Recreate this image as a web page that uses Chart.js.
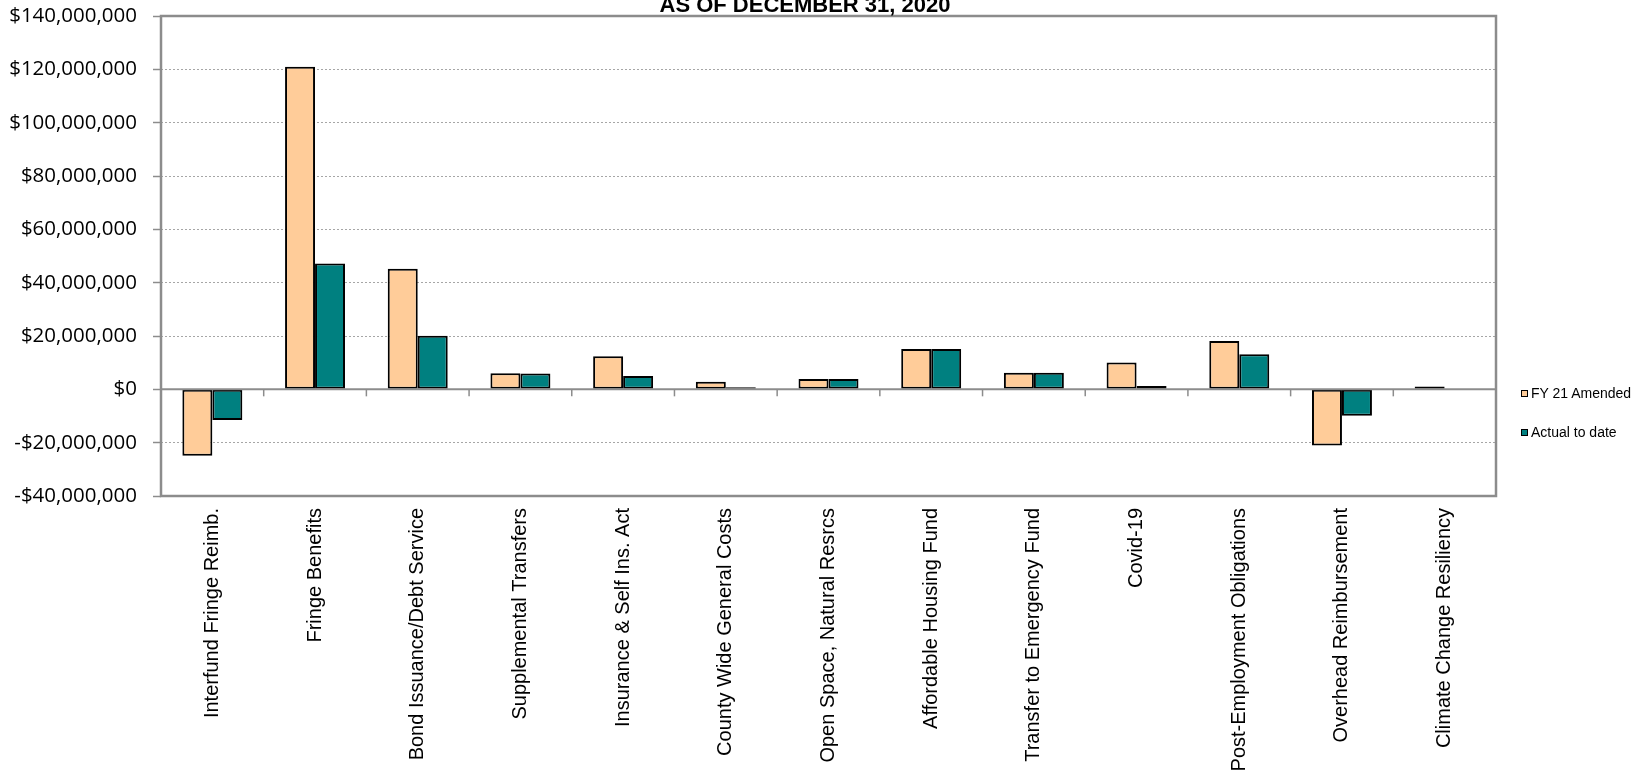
<!DOCTYPE html>
<html>
<head>
<meta charset="utf-8">
<script src="https://cdn.jsdelivr.net/npm/chart.js@4"></script>
<style>
  html, body { margin: 0; padding: 0; background: #fff; }
  #wrap { position: relative; width: 1632px; height: 777px; }
  #legend { position: absolute; left: 1521px; top: 385px; font: 14px "Liberation Sans", Arial, sans-serif; color: #000; }
  .item { position: absolute; left: 0; white-space: nowrap; line-height: 16px; }
  .item i { display: inline-block; width: 5px; height: 5px; border: 1px solid #000; margin-right: 3px; vertical-align: 1px; }
</style>
</head>
<body>
<div id="wrap">
  <canvas id="budgetChart"></canvas>
  <div id="legend"></div>
</div>
<script>
// Data
const categories = [
    'Interfund Fringe Reimb.',
    'Fringe Benefits',
    'Bond Issuance/Debt Service',
    'Supplemental Transfers',
    'Insurance & Self Ins. Act',
    'County Wide General Costs',
    'Open Space, Natural Resrcs',
    'Affordable Housing Fund',
    'Transfer to Emergency Fund',
    'Covid-19',
    'Post-Employment Obligations',
    'Overhead Reimbursement',
    'Climate Change Resiliency'
];
const seriesNames = ['FY 21 Amended', 'Actual to date'];
const fy21Amended = [-24900000, 121000000, 45200000, 6000000, 12400000, 2800000, 3900000, 15100000, 6200000, 10100000, 18100000, -21100000, 1100000];
const actualToDate = [-11500000, 47200000, 20100000, 5900000, 5000000, 750000, 3900000, 15100000, 6200000, 1250000, 13200000, -9900000, 0];
const yMin = -40000000;
const yMax = 140000000;
const yStep = 20000000;
const titleText = 'AS OF DECEMBER 31, 2020';

const colors = ['#FFCC99', '#008080'];
const frameColor = '#8c8c8c';

function money(v) {
    const s = '$' + Math.abs(v).toLocaleString('en-US');
    return v < 0 ? '-' + s : s;
}

// Frame, zero line, category ticks and title
const decorations = {
    id: 'decorations',
    afterDatasetsDraw(chart) {
        const { ctx, chartArea: a, scales } = chart;
        const x = scales.x, y = scales.y;
        const zero = y.getPixelForValue(0);
        ctx.save();
        ctx.strokeStyle = frameColor;
        ctx.lineWidth = 2;
        ctx.beginPath();
        ctx.moveTo(a.left, zero);
        ctx.lineTo(a.right, zero);
        ctx.stroke();
        ctx.lineWidth = 1.5;
        for (let i = 1; i < categories.length; i++) {
            const bx = (x.getPixelForValue(i - 1) + x.getPixelForValue(i)) / 2;
            ctx.beginPath();
            ctx.moveTo(bx, zero);
            ctx.lineTo(bx, zero + 7);
            ctx.stroke();
        }
        ctx.lineWidth = 2.5;
        ctx.strokeRect(a.left, a.top, a.right - a.left, a.bottom - a.top);
        ctx.restore();
    },
    afterDraw(chart) {
        const ctx = chart.ctx;
        ctx.save();
        ctx.fillStyle = '#000';
        ctx.font = 'bold 22px "Liberation Sans", Arial, sans-serif';
        ctx.textAlign = 'center';
        ctx.textBaseline = 'alphabetic';
        ctx.fillText(titleText, 805, 12);
        ctx.restore();
    }
};

const ctx = document.getElementById('budgetChart').getContext('2d');
const budgetChart = new Chart(ctx, {
    type: 'bar',
    data: {
        labels: categories,
        datasets: [{
            label: seriesNames[0],
            data: fy21Amended,
            backgroundColor: colors[0],
            borderColor: '#000',
            borderWidth: 2,
            borderSkipped: false
        }, {
            label: seriesNames[1],
            data: actualToDate,
            backgroundColor: colors[1],
            borderColor: '#000',
            borderWidth: 2,
            borderSkipped: false
        }]
    },
    options: {
        responsive: true,
        maintainAspectRatio: false,
        animation: false,
        layout: { padding: { left: 0, top: 16, right: 136, bottom: 0 } },
        datasets: { bar: { categoryPercentage: 0.584, barPercentage: 1.0 } },
        plugins: {
            legend: { display: false },
            title: { display: false },
            tooltip: { enabled: false }
        },
        scales: {
            x: {
                grid: { display: false, drawTicks: false },
                border: { display: false },
                ticks: {
                    color: '#000',
                    font: { family: '"Liberation Sans", Arial, sans-serif', size: 20 },
                    minRotation: 90,
                    maxRotation: 90,
                    autoSkip: false,
                    padding: 12
                },
                afterFit(s) {
                    s.height = 281;
                    s.paddingLeft = 0;
                    s.paddingRight = 0;
                }
            },
            y: {
                min: yMin,
                max: yMax,
                border: { display: false, dash: [2, 2] },
                grid: {
                    color: c => (c.tick.value === 0 || c.tick.value === yMin || c.tick.value === yMax) ? 'rgba(0,0,0,0)' : '#a6a6a6',
                    lineWidth: 1,
                    tickColor: frameColor,
                    tickWidth: 1.5,
                    tickLength: 8,
                    tickBorderDash: []
                },
                ticks: {
                    stepSize: yStep,
                    color: '#000',
                    font: { family: '"Open Sans", "Noto Sans", sans-serif', size: 20.5 },
                    padding: 16,
                    callback: v => money(v)
                },
                afterFit(s) {
                    s.width = 161;
                    s.paddingTop = 0;
                    s.paddingBottom = 0;
                }
            }
        }
    },
    plugins: [decorations]
});

// Legend as real text, built from the series names
const legend = document.getElementById('legend');
seriesNames.forEach((name, i) => {
    const item = document.createElement('div');
    item.className = 'item';
    item.style.top = (i * 39) + 'px';
    item.innerHTML = '<i style="background:' + colors[i] + '"></i>' + name;
    legend.appendChild(item);
});
</script>
</body>
</html>
